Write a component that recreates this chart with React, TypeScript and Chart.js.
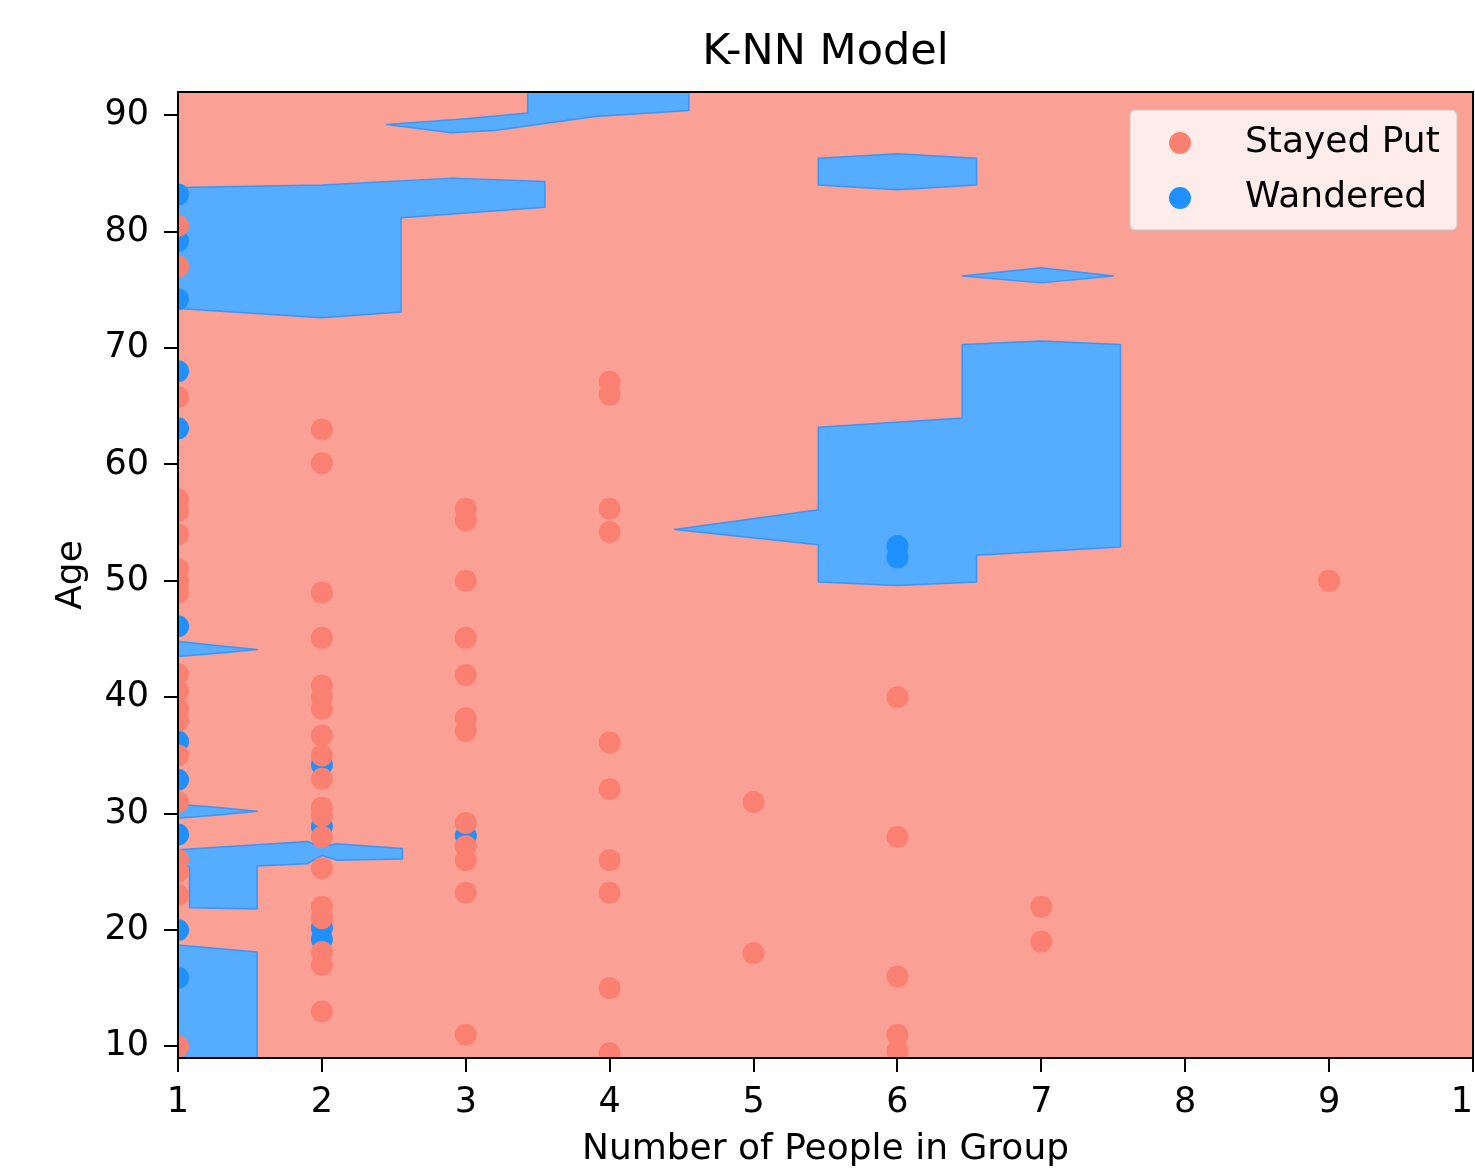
import React, { useEffect, useRef } from "react";
import { Chart, registerables } from "chart.js";

Chart.register(...registerables);

// ---- text ----
const titleText = "K-NN Model";
const xLabel = "Number of People in Group";
const yLabel = "Age";

// ---- axis setup ----
const xTicks = [1, 2, 3, 4, 5, 6, 7, 8, 9, 10];
const yTicks = [10, 20, 30, 40, 50, 60, 70, 80, 90];
const xRange = [1, 10];
const yRange = [9, 92];

// ---- scatter data: [group size, age] ----
const stayedPut: number[][] = [
  [1, 80.5], [1, 77], [1, 65.8], [1, 57], [1, 56], [1, 54], [1, 51], [1, 50], [1, 49],
  [1, 42], [1, 40.5], [1, 39], [1, 38], [1, 35], [1, 31], [1, 26], [1, 25], [1, 23], [1, 10],
  [2, 63], [2, 60.1], [2, 49], [2, 45.1], [2, 41], [2, 40], [2, 39], [2, 36.7], [2, 35], [2, 33],
  [2, 30.5], [2, 29.8], [2, 28], [2, 25.3], [2, 22], [2, 21], [2, 18.1], [2, 17], [2, 13],
  [3, 56.2], [3, 55.2], [3, 50], [3, 45.1], [3, 41.9], [3, 38.2], [3, 37.1], [3, 29.2], [3, 27.2],
  [3, 26], [3, 23.2], [3, 11],
  [4, 67.1], [4, 66], [4, 56.2], [4, 54.2], [4, 36.1], [4, 32.1], [4, 26], [4, 23.2], [4, 15], [4, 9.4],
  [5, 31], [5, 18],
  [6, 40], [6, 28], [6, 16], [6, 11], [6, 9.6],
  [7, 22], [7, 19],
  [9, 50],
];

const wandered: number[][] = [
  [1, 83.2], [1, 79.2], [1, 74.2], [1, 68], [1, 63.1], [1, 46.1], [1, 36.2], [1, 32.9],
  [1, 28.2], [1, 20], [1, 15.9],
  [2, 34.2], [2, 28.9], [2, 20.2], [2, 19.2],
  [3, 28.1],
  [6, 53], [6, 52],
];

// ---- decision regions predicted as "Wandered" (polygon vertices, data units) ----
const regionTop: number[][] = [
  [2.45, 89.2], [3.0, 89.7], [3.43, 90.2], [3.43, 92], [4.55, 92], [4.55, 90.4],
  [3.9, 89.9], [3.2, 88.7], [2.9, 88.5],
];
const regionUpperLeft: number[][] = [
  [1, 83.8], [2.0, 84.0], [2.91, 84.6], [3.55, 84.3], [3.55, 82.1], [2.55, 81.2],
  [2.55, 73.1], [2.0, 72.6], [1, 73.4],
];
const regionUpperMid: number[][] = [
  [5.45, 86.3], [6.0, 86.7], [6.55, 86.3], [6.55, 84.0], [6.0, 83.6], [5.45, 84.0],
];
const regionSliver76: number[][] = [
  [6.45, 76.2], [7.0, 76.9], [7.5, 76.2], [7.0, 75.6],
];
const regionCentre: number[][] = [
  [6.45, 70.3], [7.0, 70.6], [7.55, 70.3], [7.55, 52.9], [6.55, 52.2], [6.55, 49.9],
  [6.0, 49.6], [5.45, 49.9], [5.45, 53.1], [4.45, 54.4], [5.45, 56.1], [5.45, 63.2],
  [6.45, 64.0],
];
const regionSliver44: number[][] = [
  [1, 44.8], [1.3, 44.4], [1.55, 44.1], [1.3, 43.8], [1, 43.5],
];
const regionSliver30: number[][] = [
  [1, 30.8], [1.3, 30.5], [1.55, 30.2], [1.3, 29.9], [1, 29.6],
];
const regionBand26: number[][] = [
  [1, 26.9], [1.9, 27.6], [2.0, 27.1], [2.1, 27.4], [2.56, 27.0], [2.56, 26.1],
  [2.1, 26.0], [2.0, 26.4], [1.9, 25.7], [1.55, 25.5], [1.55, 21.8], [1.08, 21.9],
  [1.08, 25.4], [1, 25.8],
];
const regionBottomLeft: number[][] = [
  [1, 18.7], [1.55, 18.1], [1.55, 9], [1, 9],
];

const regions = [
  regionTop, regionUpperLeft, regionUpperMid, regionSliver76, regionCentre,
  regionSliver44, regionSliver30, regionBand26, regionBottomLeft,
];

const FONT = "'DejaVu Sans', 'Liberation Sans', sans-serif";
const BG_STAY = "rgb(251,160,149)";
const BG_WANDER = "rgb(86,172,255)";
const RIM_WANDER = "rgba(40,146,255,0.85)";
const PT_STAY = "#FA8072";
const PT_WANDER = "#1E90FF";

const decisionPlugin = {
  id: "decisionSurface",
  beforeDatasetsDraw(chart: any) {
    const { ctx, chartArea: a } = chart;
    ctx.save();
    ctx.beginPath();
    ctx.rect(a.left, a.top, a.right - a.left, a.bottom - a.top);
    ctx.clip();
    ctx.fillStyle = BG_STAY;
    ctx.fillRect(a.left, a.top, a.right - a.left, a.bottom - a.top);
    chart.data.datasets.forEach((ds: any, i: number) => {
      if (ds.kind !== "region") return;
      const meta = chart.getDatasetMeta(i);
      ctx.beginPath();
      meta.data.forEach((p: any, j: number) => {
        if (j === 0) ctx.moveTo(p.x, p.y);
        else ctx.lineTo(p.x, p.y);
      });
      ctx.closePath();
      ctx.fillStyle = ds.regionColor;
      ctx.fill();
      ctx.strokeStyle = ds.rimColor;
      ctx.lineWidth = 1.5;
      ctx.lineJoin = "round";
      ctx.stroke();
    });
    ctx.restore();
  },
  afterDatasetsDraw(chart: any) {
    const { ctx, chartArea: a } = chart;
    ctx.save();
    // spines
    ctx.strokeStyle = "#000";
    ctx.lineWidth = 2;
    ctx.strokeRect(a.left, a.top, a.right - a.left, a.bottom - a.top);

    // title, centred over the plotting area
    ctx.font = `43px ${FONT}`;
    ctx.fillStyle = "#000";
    ctx.textAlign = "center";
    ctx.textBaseline = "middle";
    ctx.fillText(titleText, (a.left + a.right) / 2, a.top - 39);

    // legend
    const items = chart.data.datasets.filter((d: any) => d.kind === "points");
    const w = 327;
    const h = 120;
    const x0 = a.right - 16 - w;
    const y0 = a.top + 18;
    const r = 6;
    ctx.beginPath();
    ctx.moveTo(x0 + r, y0);
    ctx.lineTo(x0 + w - r, y0);
    ctx.quadraticCurveTo(x0 + w, y0, x0 + w, y0 + r);
    ctx.lineTo(x0 + w, y0 + h - r);
    ctx.quadraticCurveTo(x0 + w, y0 + h, x0 + w - r, y0 + h);
    ctx.lineTo(x0 + r, y0 + h);
    ctx.quadraticCurveTo(x0, y0 + h, x0, y0 + h - r);
    ctx.lineTo(x0, y0 + r);
    ctx.quadraticCurveTo(x0, y0, x0 + r, y0);
    ctx.closePath();
    ctx.fillStyle = "rgba(255,255,255,0.8)";
    ctx.fill();
    ctx.strokeStyle = "rgba(204,204,204,0.8)";
    ctx.lineWidth = 1.5;
    ctx.stroke();

    ctx.font = `36px ${FONT}`;
    ctx.textBaseline = "middle";
    ctx.textAlign = "left";
    items.forEach((d: any, k: number) => {
      const cy = y0 + 33 + k * 55;
      ctx.beginPath();
      ctx.arc(x0 + 50, cy, 11, 0, Math.PI * 2);
      ctx.fillStyle = d.backgroundColor;
      ctx.fill();
      ctx.fillStyle = "#000";
      ctx.fillText(d.label, x0 + 115, cy);
    });
    ctx.restore();
  },
};

const toXY = (arr: number[][]) => arr.map(([x, y]) => ({ x, y }));

export default function App() {
  const ref = useRef<HTMLCanvasElement | null>(null);

  useEffect(() => {
    if (!ref.current) return;
    const regionSets = regions.map((poly, i) => ({
      kind: "region",
      label: `region${i}`,
      data: toXY(poly),
      regionColor: BG_WANDER,
      rimColor: RIM_WANDER,
      pointRadius: 0,
      pointHoverRadius: 0,
      pointHitRadius: 0,
      showLine: false,
    }));
    const chart = new Chart(ref.current, {
      type: "scatter",
      data: {
        datasets: [
          ...regionSets,
          {
            kind: "points",
            label: "Stayed Put",
            data: toXY(stayedPut),
            backgroundColor: PT_STAY,
            borderWidth: 0,
            pointRadius: 11,
            clip: 0,
          },
          {
            kind: "points",
            label: "Wandered",
            data: toXY(wandered),
            backgroundColor: PT_WANDER,
            borderWidth: 0,
            pointRadius: 11,
            clip: 0,
          },
        ] as any,
      },
      options: {
        animation: false,
        responsive: false,
        devicePixelRatio: 1,
        layout: { padding: { left: 0, right: 47, top: 92, bottom: 0 } },
        plugins: {
          legend: { display: false },
          tooltip: { enabled: false },
          title: { display: false },
        },
        scales: {
          x: {
            type: "linear",
            min: xRange[0],
            max: xRange[1],
            afterFit: (s: any) => {
              s.height = 111;
            },
            afterBuildTicks: (s: any) => {
              s.ticks = xTicks.map((v) => ({ value: v }));
            },
            grid: {
              display: true,
              drawOnChartArea: false,
              drawTicks: true,
              tickLength: 14,
              color: "#000",
              lineWidth: 2,
            },
            border: { display: true, color: "#000", width: 2 },
            ticks: {
              color: "#000",
              font: { family: FONT, size: 35, lineHeight: 1.2 },
              padding: 10,
              maxRotation: 0,
              autoSkip: false,
            },
            title: {
              display: true,
              text: xLabel,
              color: "#000",
              font: { family: FONT, size: 36, lineHeight: 1 },
              padding: { top: 0, bottom: 1.5 },
            },
          },
          y: {
            type: "linear",
            min: yRange[0],
            max: yRange[1],
            afterFit: (s: any) => {
              s.width = 178;
            },
            afterBuildTicks: (s: any) => {
              s.ticks = yTicks.map((v) => ({ value: v }));
            },
            grid: {
              display: true,
              drawOnChartArea: false,
              drawTicks: true,
              tickLength: 14,
              color: "#000",
              lineWidth: 2,
            },
            border: { display: true, color: "#000", width: 2 },
            ticks: {
              color: "#000",
              font: { family: FONT, size: 35, lineHeight: 1.2 },
              padding: 15,
              autoSkip: false,
            },
            title: {
              display: true,
              text: yLabel,
              color: "#000",
              font: { family: FONT, size: 36, lineHeight: 1 },
              padding: { top: 54, bottom: 0 },
            },
          },
        },
      } as any,
      plugins: [decisionPlugin],
    });
    return () => chart.destroy();
  }, []);

  return (
    <div
      style={{
        position: "absolute",
        left: 0,
        top: 0,
        width: 1475,
        height: 1169,
        overflow: "hidden",
        background: "#fff",
      }}
    >
      <canvas ref={ref} width={1520} height={1169} style={{ display: "block" }} />
    </div>
  );
}
